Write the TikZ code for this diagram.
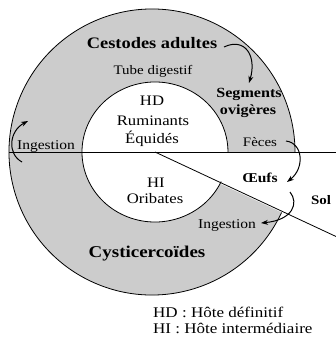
\documentclass[tikz,border=0pt]{standalone}
\usepackage{fontspec}
\setmainfont[FakeStretch=1.15]{Liberation Serif}
\usetikzlibrary{arrows.meta}
\newcommand{\fsz}[1]{\fontsize{#1}{#1}\selectfont}
\begin{document}
\begin{tikzpicture}[x=1pt,y=-1pt,
  ringfill/.style={fill=black!20},
  edge/.style={line width=0.8pt},
  flow/.style={line width=1pt,-{Stealth[length=7pt,width=5pt]}},
  lbl/.style={inner sep=0pt,anchor=base},
  big/.style={lbl,font=\fsz{16}\bfseries},
  mid/.style={lbl,font=\fsz{14}\bfseries},
  reg/.style={lbl,font=\fsz{13}},
  ctr/.style={lbl,font=\fsz{14.5}},
  leg/.style={lbl,anchor=base west,font=\fsz{14.8}}]
\useasboundingbox (0,0) rectangle (336,342);
\coordinate (C) at (152,152);
\coordinate (Ci) at (155,152);
\coordinate (Lstart) at (9,152);
\coordinate (Lend) at (336,152);
\coordinate (Dend) at (336,236.5);
% gray ring
\fill[ringfill] (C) -- ++(25:143) arc[start angle=25,end angle=360,radius=143] -- cycle;
\fill[white] (Ci) ellipse[x radius=73,y radius=70];
% outlines
\draw[edge] (C) ++(25:143) arc[start angle=25,end angle=360,radius=143];
\draw[edge] (Ci) ++(25:73 and 70) arc[start angle=25,end angle=360,x radius=73,y radius=70];
\draw[edge] (Lstart) -- (Lend);
\draw[edge] (Ci) -- (Dend);
% labels
\node[big] (ca) at (152,49) {Cestodes adultes};
\node[reg] (td) at (153,75) {Tube digestif};
\node[ctr] (hd) at (152,106) {HD};
\node[ctr] (rum) at (153,125) {Ruminants};
\node[ctr] (equ) at (152,143) {Équidés};
\node[mid] (seg) at (249,98) {Segments};
\node[mid] (ovi) at (248,114) {ovigères};
\node[reg] (fec) at (260,146) {Fèces};
\node[reg,font=\fsz{13.5}] (ing1) at (46,149) {Ingestion};
\node[ctr] (hi) at (156,187) {HI};
\node[ctr] (ori) at (155,203) {Oribates};
\node[reg,font=\fsz{13.5}\bfseries] (oeu) at (260,182) {Œufs};
\node[reg,font=\fsz{13}\bfseries] (sol) at (321,204) {Sol};
\node[reg,font=\fsz{13.5}] (ing2) at (227,228) {Ingestion};
\node[big,font=\fsz{16.5}\bfseries] (cys) at (147,257) {Cysticercoïdes};
\node[leg] (leg1) at (153,317) {HD : Hôte définitif};
\node[leg] (leg2) at (153,333) {HI : Hôte intermédiaire};
% arrow end points
\coordinate (a1s) at (224,47);  \coordinate (a1e) at (249,83);
\coordinate (a2s) at (286,141); \coordinate (a2e) at (287,182);
\coordinate (a3s) at (290,192); \coordinate (a3e) at (261,223);
\coordinate (a4s) at (22,162);  \coordinate (a4e) at (28,121);
% arrows
\draw[flow] (a1s) .. controls (245,37) and (257,56) .. (a1e);
\draw[flow] (a2s) .. controls (303,143) and (305,168) .. (a2e);
\draw[flow] (a3s) .. controls (299,203) and (293,220) .. (a3e);
\draw[flow] (a4s) .. controls (7,154) and (9,131) .. (a4e);
\end{tikzpicture}
\end{document}
